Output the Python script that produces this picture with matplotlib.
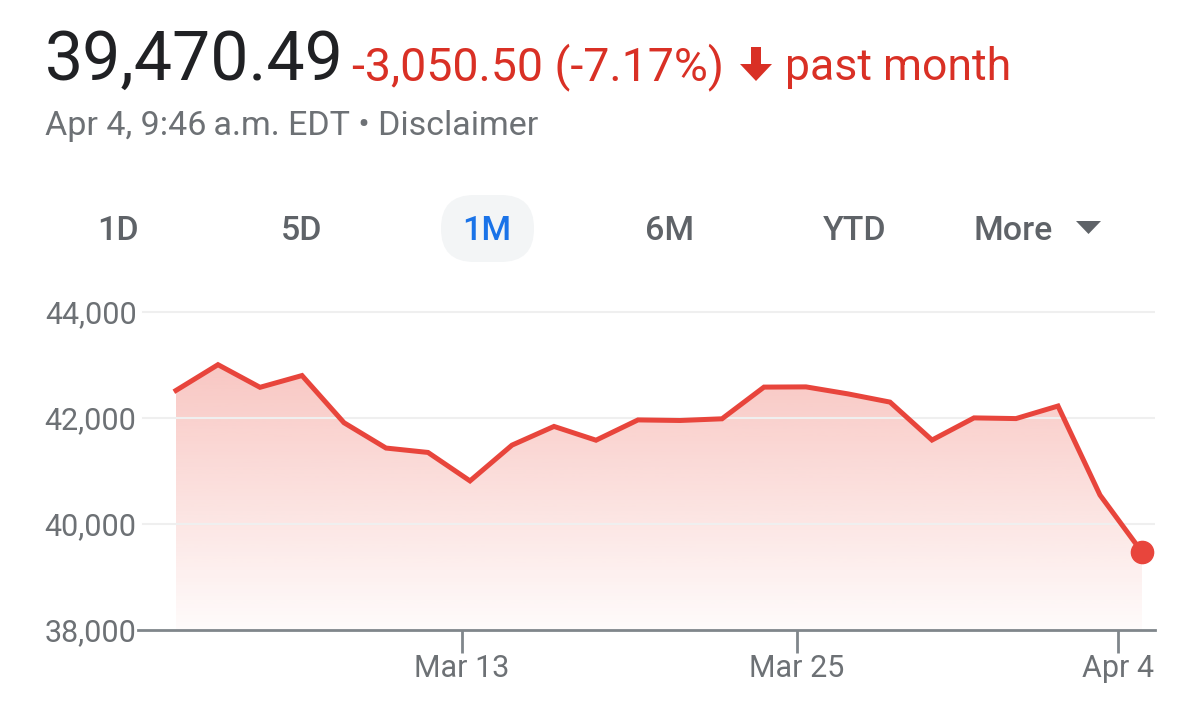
import matplotlib.pyplot as plt
import matplotlib.transforms as mtransforms
import numpy as np
from matplotlib.patches import FancyBboxPatch, Polygon

# Daily closes, Mar 4 - Apr 4 (last point is intraday)
dates = ['Mar 4', 'Mar 5', 'Mar 6', 'Mar 7', 'Mar 10', 'Mar 11', 'Mar 12', 'Mar 13',
         'Mar 14', 'Mar 17', 'Mar 18', 'Mar 19', 'Mar 20', 'Mar 21', 'Mar 24', 'Mar 25',
         'Mar 26', 'Mar 27', 'Mar 28', 'Mar 31', 'Apr 1', 'Apr 2', 'Apr 3', 'Apr 4']
closes = [42520, 43006, 42579, 42801, 41911, 41433, 41350, 40813,
          41488, 41841, 41581, 41964, 41953, 41985, 42583, 42587,
          42455, 42300, 41584, 42002, 41989, 42226, 40546, 39470]

yticks = [38000, 40000, 42000, 44000]
xtick_pos = [6.81, 14.79, 22.43]
xtick_labels = ['Mar 13', 'Mar 25', 'Apr 4']
ranges = ['1D', '5D', '1M', '6M', 'YTD', 'More']

RED_LINE = '#e8453c'
RED_TEXT = '#d93025'
GRAY = '#6d7175'

plt.rcParams['font.family'] = ['Roboto', 'DejaVu Sans']

W, H = 1200, 727
fig = plt.figure(figsize=(W / 100, H / 100), dpi=100)
# pixel coords, origin top-left
pxT = mtransforms.Affine2D().scale(1 / W, -1 / H).translate(0, 1) + fig.transFigure

# header
fig.text(45, 80, '39,470.49', transform=pxT, fontsize=49, color='#202124', va='baseline')
fig.text(352, 80, '-3,050.50 (-7.17%)', transform=pxT, fontsize=33.5, color=RED_TEXT, va='baseline')
fig.patches.append(Polygon([(751, 47), (761, 47), (761, 64), (772, 64), (756, 81),
                            (740, 64), (751, 64)], closed=True, transform=pxT,
                           facecolor=RED_TEXT, edgecolor='none'))
fig.text(785, 80, 'past month', transform=pxT, fontsize=32, color=RED_TEXT, va='baseline')
fig.text(45, 135, 'Apr 4, 9:46\u2009a.m. EDT \u2022 Disclaimer', transform=pxT,
         fontsize=24.5, color=GRAY, va='baseline')

# range selector
fig.patches.append(FancyBboxPatch((441, 195), 93, 67, boxstyle='round,pad=0,rounding_size=33',
                                  transform=pxT, facecolor='#f3f5f6', edgecolor='none'))
btn_x = [118, 302, 487, 670, 855, 1013]
for lab, bx in zip(ranges, btn_x):
    col = '#1a73e8' if lab == '1M' else '#5f6368'
    fig.text(bx, 240, lab, transform=pxT, fontsize=24.5, color=col, ha='center',
             va='baseline', fontweight='medium')
fig.patches.append(Polygon([(1076, 221), (1101, 221), (1088.5, 234)], closed=True,
                           transform=pxT, facecolor='#5f6368', edgecolor='none'))

# chart axes: left 138px, right 1155px, y=38000 at 630px, 44000 at 312px
step = 42.0
ypp = 6000 / 318
top_px = 290
ax = fig.add_axes([138 / W, 1 - 630 / H, (1155 - 138) / W, (630 - top_px) / H])
x = np.arange(len(closes))
ax.set_xlim(-(176 - 138) / step, (1155 - 176) / step)
ax.set_ylim(38000, 38000 + (630 - top_px) * ypp)

# gradient fill under the line
grad = np.zeros((256, 1, 4))
rgb = np.array([234, 67, 53]) / 255
grad[:, 0, :3] = rgb
grad[:, 0, 3] = np.linspace(0.30, 0.02, 256)
img = ax.imshow(grad, extent=[x[0], x[-1], 38000, max(closes)], aspect='auto',
                origin='upper', zorder=1, interpolation='bicubic')
poly = ax.fill_between(x, closes, 38000, facecolor='none', edgecolor='none')
clip = poly.get_paths()[0]
img.set_clip_path(clip, transform=ax.transData)

ax.plot(x, closes, color=RED_LINE, lw=3.6, zorder=3, solid_joinstyle='miter')
ax.plot(x[-1], closes[-1], 'o', color=RED_LINE, markersize=16, zorder=4)

for yv in yticks[1:]:
    ax.plot([(143 - 176) / step, ax.get_xlim()[1]], [yv, yv], color='#efefef', lw=1.5, zorder=2)

ax.set_yticks(yticks)
ax.set_yticklabels([f'{v:,}' for v in yticks])
ax.set_xticks(xtick_pos)
ax.set_xticklabels(xtick_labels)
ax.tick_params(axis='y', length=0, pad=1, labelsize=22, labelcolor=GRAY)
ax.tick_params(axis='x', length=16.5, width=2, color='#80868b', pad=1,
               labelsize=22, labelcolor=GRAY)
for s in ['top', 'right', 'left']:
    ax.spines[s].set_visible(False)
ax.spines['bottom'].set_color('#80868b')
ax.spines['bottom'].set_linewidth(2)
ax.spines['bottom'].set_zorder(5)

fig.savefig('out.png', dpi=100, facecolor='white')
